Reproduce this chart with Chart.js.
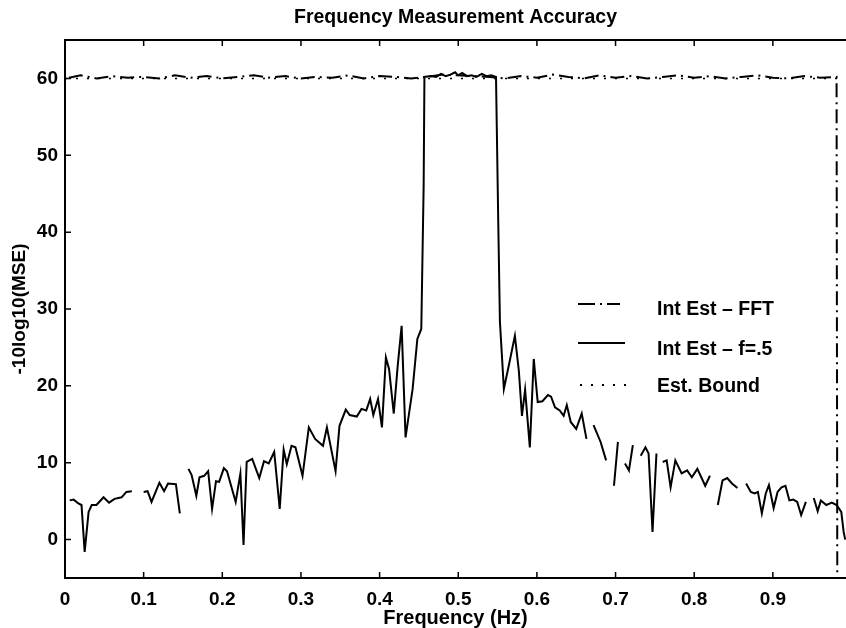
<!DOCTYPE html>
<html>
<head>
<meta charset="utf-8">
<script src="https://cdn.jsdelivr.net/npm/chart.js@4.4.0/dist/chart.umd.min.js"></script>
<style>
  html, body { margin: 0; padding: 0; background: #fff; overflow: hidden; }
  #wrap { width: 846px; height: 628px; }
</style>
</head>
<body>
<div id="wrap"><canvas id="accChart" width="846" height="628"></canvas></div>
<script>
////////////////////////////// data
var xTicks = [0, 0.1, 0.2, 0.3, 0.4, 0.5, 0.6, 0.7, 0.8, 0.9];
var yTicks = [0, 10, 20, 30, 40, 50, 60];

// Int Est - f=.5 (null = gap in the curve)
var solidFreq = [
  0.006, 0.011, 0.017, 0.021, 0.025, 0.030, 0.034, 0.040, 0.049, 0.056, 0.063, 0.072, 0.078, 0.085, 0.092,
  0.100, 0.105, 0.110, 0.120, 0.126, 0.131, 0.141, 0.146, 0.151,
  0.157, 0.161, 0.167, 0.171, 0.177, 0.182, 0.187, 0.192, 0.196, 0.202, 0.206, 0.217, 0.223, 0.227, 0.231,
  0.238, 0.247, 0.253, 0.259, 0.266, 0.273, 0.278, 0.282, 0.288, 0.293, 0.302, 0.310, 0.318, 0.328, 0.333,
  0.344, 0.349, 0.357, 0.362, 0.371, 0.377, 0.383, 0.388, 0.392, 0.398, 0.403, 0.408, 0.412, 0.418, 0.423,
  0.428, 0.433, 0.442, 0.448, 0.453, 0.456, 0.457, 0.465, 0.472, 0.478, 0.484, 0.490, 0.496, 0.500, 0.505,
  0.511, 0.517, 0.523, 0.530, 0.536, 0.542, 0.548, 0.551, 0.553, 0.558, 0.565, 0.572, 0.577, 0.581, 0.585,
  0.591, 0.596, 0.601, 0.607, 0.614, 0.618, 0.623, 0.629, 0.634, 0.638, 0.643, 0.650, 0.657, 0.663, 0.667,
  0.672, 0.681, 0.688, 0.693, 0.698, 0.703, 0.707, 0.712, 0.717, 0.722, 0.727,
  0.732, 0.738, 0.742, 0.747, 0.752, 0.756, 0.760, 0.765, 0.770, 0.776, 0.784, 0.791, 0.797, 0.804, 0.814, 0.820, 0.825,
  0.830, 0.836, 0.842, 0.848, 0.855, 0.860,
  0.866, 0.872, 0.877, 0.881, 0.886, 0.891, 0.895, 0.901, 0.906, 0.911, 0.916, 0.921, 0.926, 0.931, 0.936, 0.942, 0.947,
  0.952, 0.957, 0.961, 0.968, 0.975, 0.981, 0.987, 0.990, 0.992
];
var solidVals = [
  5.1, 5.2, 4.7, 4.5, -1.6, 3.6, 4.5, 4.5, 5.5, 4.8, 5.3, 5.5, 6.2, 6.3, null,
  6.2, 6.3, 4.9, 7.4, 6.3, 7.3, 7.2, 3.4, null,
  9.2, 8.4, 5.7, 8.1, 8.3, 8.9, 4.0, 7.6, 7.5, 9.3, 8.9, 4.9, 8.6, -0.7, 10.1,
  10.5, 8.0, 10.2, 9.9, 11.4, 4.0, 11.7, 9.8, 12.2, 12.0, 8.3, 14.6, 13.1, 12.2, 14.6,
  8.9, 14.8, 16.9, 16.2, 16.0, 17.0, 16.8, 18.3, 16.2, 18.3, 14.6, 23.7, 22.2, 16.4, 22.6,
  27.8, 13.3, 19.6, 26.1, 27.4, 46.0, 60.2, 60.3, 60.2, 60.6, 60.3, 60.5, 60.8, 60.4, 60.7,
  60.3, 60.4, 60.2, 60.6, 60.3, 60.4, 60.2, 40.4, 28.3, 19.6, 23.0, 26.5, 22.0, 16.1, 19.5,
  12.0, 23.5, 17.9, 18.0, 18.8, 18.6, 17.2, 16.8, 16.1, 17.5, 15.3, 14.4, 16.4, 13.1, null,
  14.9, 12.7, 10.3, null, 7.0, 12.7, null, 9.9, 9.0, 12.3, null,
  10.9, 12.0, 11.2, 1.0, 11.2, null, 10.1, 10.3, 6.8, 10.3, 8.6, 9.0, 8.1, 9.2, 7.0, 8.3, null,
  4.5, 7.7, 8.0, 7.3, 6.7, null,
  7.3, 6.2, 6.0, 6.2, 3.4, 6.0, 7.1, 4.1, 6.2, 6.8, 7.0, 5.1, 5.2, 4.9, 3.2, 4.9, null,
  5.4, 3.7, 5.1, 4.5, 4.8, 4.5, 3.6, 1.0, 0.0
];

// Int Est - FFT
var fftFreq = [
  0.005, 0.02, 0.04, 0.06, 0.08, 0.10, 0.12, 0.14, 0.16, 0.18, 0.20, 0.22, 0.24, 0.26, 0.28, 0.30,
  0.32, 0.34, 0.36, 0.38, 0.40, 0.42, 0.44, 0.46, 0.48, 0.50, 0.52, 0.54, 0.56, 0.58, 0.60, 0.62,
  0.64, 0.66, 0.68, 0.70, 0.72, 0.74, 0.76, 0.78, 0.80, 0.82, 0.84, 0.86, 0.88, 0.90, 0.92, 0.94,
  0.96, 0.981, 0.982
];
var fftVals = [
  60.1, 60.4, 60.0, 60.3, 60.1, 60.2, 60.0, 60.4, 60.1, 60.3, 60.0, 60.2, 60.4, 60.1, 60.3, 60.0,
  60.2, 60.1, 60.4, 60.0, 60.3, 60.2, 60.0, 60.2, 60.5, 60.4, 60.3, 60.2, 60.0, 60.3, 60.1, 60.5,
  60.2, 60.0, 60.4, 60.1, 60.3, 60.0, 60.2, 60.4, 60.1, 60.3, 60.0, 60.2, 60.4, 60.1, 60.0, 60.3,
  60.1, 60.2, -10
];

// Est. Bound
var boundFreq = [0, 0.99];
var boundVals = [60, 60];

var legendItems = ["Int Est \u2013 FFT", "Int Est \u2013 f=.5", "Est. Bound"];

var FONT = "'Liberation Sans', Arial, Helvetica, sans-serif";

function toPoints(xs, ys) {
  return xs.map(function (x, i) { return { x: x, y: ys[i] }; });
}

////////////////////////////// inside ticks, top frame and legend
var framePlugin = {
  id: "frame",
  afterDraw: function (chart) {
    var ctx = chart.ctx;
    var a = chart.chartArea;
    var xs = chart.scales.x;
    var ys = chart.scales.y;
    ctx.save();
    ctx.strokeStyle = "#000";
    ctx.lineWidth = 2;
    ctx.beginPath();
    ctx.moveTo(a.left, a.top);
    ctx.lineTo(a.right, a.top);
    ctx.stroke();

    ctx.lineWidth = 1.5;
    ctx.beginPath();
    xTicks.forEach(function (v) {
      var px = xs.getPixelForValue(v);
      ctx.moveTo(px, a.bottom);
      ctx.lineTo(px, a.bottom - 6);
      ctx.moveTo(px, a.top);
      ctx.lineTo(px, a.top + 6);
    });
    yTicks.forEach(function (v) {
      var py = ys.getPixelForValue(v);
      ctx.moveTo(a.left, py);
      ctx.lineTo(a.left + 6, py);
    });
    ctx.stroke();

    // legend
    var lx = 578, tx = 657;
    var rows = [304, 343, 385];
    var textRows = [310, 350, 387];
    ctx.lineWidth = 2;
    ctx.setLineDash([17, 5, 2, 5]);
    ctx.beginPath(); ctx.moveTo(lx, rows[0]); ctx.lineTo(lx + 42, rows[0]); ctx.stroke();
    ctx.setLineDash([]);
    ctx.beginPath(); ctx.moveTo(lx, rows[1]); ctx.lineTo(lx + 47, rows[1]); ctx.stroke();
    ctx.setLineDash([2, 9]);
    ctx.beginPath(); ctx.moveTo(lx + 2, rows[2]); ctx.lineTo(lx + 52, rows[2]); ctx.stroke();
    ctx.setLineDash([]);

    ctx.fillStyle = "#000";
    ctx.font = "bold 19.5px " + FONT;
    ctx.textBaseline = "middle";
    ctx.textAlign = "left";
    legendItems.forEach(function (t, i) {
      ctx.fillText(t, tx, textRows[i]);
    });
    ctx.restore();
  }
};

////////////////////////////// chart
var ctxAcc = document.getElementById("accChart").getContext("2d");

var accChart = new Chart(ctxAcc, {
  type: "scatter",
  data: {
    datasets: [
      {
        label: "Est. Bound",
        data: toPoints(boundFreq, boundVals),
        showLine: true,
        borderColor: "#000",
        borderWidth: 1.5,
        borderDash: [2, 9],
        pointRadius: 0
      },
      {
        label: "Int Est - FFT",
        data: toPoints(fftFreq, fftVals),
        showLine: true,
        borderColor: "#000",
        borderWidth: 2,
        borderDash: [14, 5, 2, 5],
        pointRadius: 0,
        tension: 0
      },
      {
        label: "Int Est - f=.5",
        data: toPoints(solidFreq, solidVals),
        showLine: true,
        spanGaps: false,
        borderColor: "#000",
        borderWidth: 2,
        pointRadius: 0,
        tension: 0
      }
    ]
  },
  options: {
    responsive: false,
    animation: false,
    events: [],
    layout: { padding: { top: 0, left: 0, right: 0, bottom: 0 } },
    scales: {
      x: {
        type: "linear",
        min: 0,
        max: 0.993,
        afterBuildTicks: function (s) {
          s.ticks = xTicks.map(function (v) { return { value: v }; });
        },
        afterFit: function (s) { s.height = 50; },
        grid: { display: false, drawTicks: false },
        border: { display: true, color: "#000", width: 2 },
        ticks: {
          color: "#000",
          padding: 10,
          maxRotation: 0,
          font: { family: FONT, size: 19, weight: "bold" },
          callback: function (v) { return String(Math.round(v * 10) / 10); }
        },
        title: {
          display: true,
          text: "Frequency (Hz)",
          color: "#000",
          padding: { top: 0, bottom: -2 },
          font: { family: FONT, size: 20, weight: "bold" }
        }
      },
      y: {
        min: -5,
        max: 65,
        afterBuildTicks: function (s) {
          s.ticks = yTicks.map(function (v) { return { value: v }; });
        },
        afterFit: function (s) { s.width = 65; },
        grid: { display: false, drawTicks: false },
        border: { display: true, color: "#000", width: 2 },
        ticks: {
          color: "#000",
          padding: 7,
          font: { family: FONT, size: 19, weight: "bold" }
        },
        title: {
          display: true,
          text: "-10log10(MSE)",
          color: "#000",
          padding: { top: 8, bottom: 0 },
          font: { family: FONT, size: 19, weight: "bold" }
        }
      }
    },
    plugins: {
      legend: { display: false },
      tooltip: { enabled: false },
      title: {
        display: true,
        fullSize: false,
        text: "Frequency Measurement Accuracy",
        color: "#000",
        padding: { top: 6, bottom: 10.6 },
        font: { family: FONT, size: 19.5, weight: "bold" }
      }
    }
  },
  plugins: [framePlugin]
});
</script>
</body>
</html>
